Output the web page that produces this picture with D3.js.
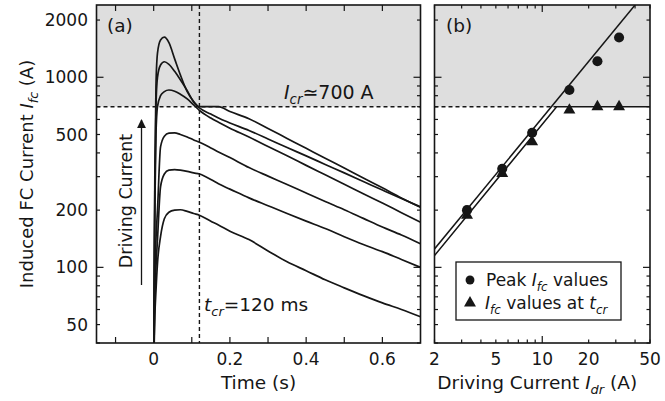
<!DOCTYPE html>
<html>
<head>
<meta charset="utf-8">
<script src="https://cdn.jsdelivr.net/npm/d3@7"></script>
<style>
  body { margin: 0; background: #fff; }
  svg text { font-family: "DejaVu Sans", "Open Sans", sans-serif; fill: #161616; }
</style>
</head>
<body>
<svg id="chart" width="665" height="401"></svg>
<script>
// ---- data ---------------------------------------------------------------
// Time grid (s) shared by the six FC current traces of panel (a)
const times = [0, 0.003, 0.006, 0.01, 0.018, 0.028, 0.04, 0.055, 0.07, 0.088, 0.105, 0.12,
               0.15, 0.17, 0.2, 0.25, 0.3, 0.35, 0.4, 0.45, 0.5, 0.55, 0.6, 0.65, 0.7];
// Induced FC current (A), one trace per driving current
const trace1 = [30, 55, 75, 105, 145, 180, 195, 200, 201, 197, 192, 188,
                175, 167, 155, 140, 122, 107, 96, 86, 78, 71, 65, 60, 55];
const trace2 = [30, 70, 100, 140, 265, 310, 325, 327, 325, 320, 314, 310,
                290, 275, 258, 232, 211, 192, 175, 160, 145, 132, 121, 110, 100];
const trace3 = [30, 90, 140, 200, 430, 490, 508, 510, 500, 485, 468, 455,
                425, 405, 378, 335, 302, 273, 246, 222, 201, 181, 163, 148, 133];
const trace4 = [30, 200, 500, 700, 800, 840, 857, 845, 815, 770, 715, 670,
                610, 580, 540, 485, 432, 386, 344, 307, 274, 244, 218, 194, 173];
const trace5 = [30, 250, 700, 1000, 1160, 1207, 1170, 1075, 970, 850, 740, 690,
                640, 610, 575, 525, 474, 427, 386, 348, 314, 283, 255, 230, 208];
const trace6 = [30, 300, 900, 1340, 1570, 1625, 1520, 1250, 1030, 840, 745, 700,
                700, 700, 660, 605, 538, 477, 423, 375, 333, 295, 262, 232, 207];

// Panel (b): driving current vs peak FC current and FC current at t_cr
const driveCurrents = [3.25, 5.5, 8.6, 15, 22.8, 31.5];
const peakValues    = [200, 330, 511, 857, 1215, 1620];
const crValues      = [188, 312, 457, 672, 700, 700];
// Power-law fits drawn as straight lines in log-log space: [I_dr, I_fc]
const peakFit = [[2, 125], [40, 2400]];
const crFit   = [[2, 115.5], [12.4, 700], [50, 700]];

const criticalCurrent = 700;   // A
const criticalTime = 0.12;     // s

const currentLabels = [50, 100, 200, 500, 1000, 2000];
const timeLabels = [0, 0.2, 0.4, 0.6];
const timeTickValues = [-0.1, 0, 0.1, 0.2, 0.3, 0.4, 0.5, 0.6];
const driveLabels = [2, 5, 10, 20, 50];

// ---- layout --------------------------------------------------------------
const svg = d3.select("#chart");
const plotTop = 5, plotBottom = 343;
const A = { x0: 96.5, x1: 420.5 };
const B = { x0: 434.5, x1: 650 };

const y = d3.scaleLog().domain([40, 2400]).range([plotBottom, plotTop]);
const xa = d3.scaleLinear().domain([-0.15, 0.7]).range([A.x0, A.x1]);
const xb = d3.scaleLog().domain([2, 50]).range([B.x0, B.x1]);

const ink = "#161616";
const shade = "#dedede";

const defs = svg.append("defs");
defs.append("clipPath").attr("id", "clipA").append("rect")
  .attr("x", A.x0).attr("y", plotTop).attr("width", A.x1 - A.x0).attr("height", plotBottom - plotTop);
defs.append("clipPath").attr("id", "clipB").append("rect")
  .attr("x", B.x0).attr("y", plotTop).attr("width", B.x1 - B.x0).attr("height", plotBottom - plotTop);

// Text with italic symbols and subscripts
function rich(sel, parts, size) {
  let shifted = 0;
  parts.forEach(p => {
    const ts = sel.append("tspan").text(p.t);
    if (p.i) ts.attr("font-style", "italic");
    const want = p.sub ? size * 0.28 : 0;
    if (want !== shifted) { ts.attr("dy", want - shifted); shifted = want; }
    ts.attr("font-size", p.sub ? size * 0.7 : size);
  });
  return sel;
}

// ---- shaded region above the critical current ----------------------------
[A, B].forEach(P => {
  svg.append("rect")
    .attr("x", P.x0).attr("y", plotTop)
    .attr("width", P.x1 - P.x0).attr("height", y(criticalCurrent) - plotTop)
    .attr("fill", shade);
});

// ---- panel (a) -----------------------------------------------------------
const gA = svg.append("g").attr("clip-path", "url(#clipA)");
gA.append("line")
  .attr("x1", A.x0).attr("x2", A.x1)
  .attr("y1", y(criticalCurrent)).attr("y2", y(criticalCurrent))
  .attr("stroke", ink).attr("stroke-width", 1.4).attr("stroke-dasharray", "4,3");
gA.append("line")
  .attr("x1", xa(criticalTime)).attr("x2", xa(criticalTime))
  .attr("y1", plotTop).attr("y2", plotBottom)
  .attr("stroke", ink).attr("stroke-width", 1.4).attr("stroke-dasharray", "4,3");

const traceLine = d3.line()
  .x((d, i) => xa(times[i]))
  .y(d => y(d))
  .curve(d3.curveMonotoneX);

[trace1, trace2, trace3, trace4, trace5, trace6].forEach(tr => {
  gA.append("path").attr("d", traceLine(tr))
    .attr("fill", "none").attr("stroke", ink).attr("stroke-width", 1.7)
    .attr("stroke-linejoin", "round");
});

// ---- panel (b) -----------------------------------------------------------
const gB = svg.append("g").attr("clip-path", "url(#clipB)");
gB.append("line")
  .attr("x1", B.x0).attr("x2", xb(crFit[1][0]))
  .attr("y1", y(criticalCurrent)).attr("y2", y(criticalCurrent))
  .attr("stroke", ink).attr("stroke-width", 1.4).attr("stroke-dasharray", "4,3");

const fitLine = d3.line().x(d => xb(d[0])).y(d => y(d[1]));
[peakFit, crFit].forEach(f => {
  gB.append("path").attr("d", fitLine(f))
    .attr("fill", "none").attr("stroke", ink).attr("stroke-width", 1.5);
});

const circleSym = d3.symbol(d3.symbolCircle, 80);
const triSym = d3.symbol(d3.symbolTriangle, 62);
driveCurrents.forEach((c, i) => {
  gB.append("path").attr("d", triSym())
    .attr("transform", `translate(${xb(c)},${y(crValues[i])})`).attr("fill", ink);
  gB.append("path").attr("d", circleSym())
    .attr("transform", `translate(${xb(c)},${y(peakValues[i])})`).attr("fill", ink);
});

// legend
const lg = svg.append("g");
lg.append("rect").attr("x", 456).attr("y", 262).attr("width", 165).attr("height", 58)
  .attr("fill", "#fff").attr("stroke", ink).attr("stroke-width", 1.3);
lg.append("path").attr("d", d3.symbol(d3.symbolCircle, 62)())
  .attr("transform", "translate(470,280)").attr("fill", ink);
lg.append("path").attr("d", d3.symbol(d3.symbolTriangle, 62)())
  .attr("transform", "translate(470,303)").attr("fill", ink);
rich(lg.append("text").attr("x", 486).attr("y", 286), [
  { t: "Peak " }, { t: "I", i: true }, { t: "fc", i: true, sub: true }, { t: " values" }
], 17);
rich(lg.append("text").attr("x", 485).attr("y", 309), [
  { t: "I", i: true }, { t: "fc", i: true, sub: true }, { t: " values at " },
  { t: "t", i: true }, { t: "cr", i: true, sub: true }
], 17);

// ---- frames and ticks ----------------------------------------------------
const yTickVals = y.ticks();
function yTicks(P) {
  yTickVals.forEach(v => {
    const major = Math.abs(Math.log10(v) - Math.round(Math.log10(v))) < 1e-9;
    const len = major ? 7 : 3.5;
    [[P.x0, 1], [P.x1, -1]].forEach(([x, s]) => {
      svg.append("line").attr("x1", x).attr("x2", x + s * len)
        .attr("y1", y(v)).attr("y2", y(v))
        .attr("stroke", ink).attr("stroke-width", 1.2);
    });
  });
}
yTicks(A); yTicks(B);

timeTickValues.forEach(t => {
  [[plotBottom, -1], [plotTop, 1]].forEach(([yy, s]) => {
    svg.append("line").attr("x1", xa(t)).attr("x2", xa(t))
      .attr("y1", yy).attr("y2", yy + s * 6)
      .attr("stroke", ink).attr("stroke-width", 1.2);
  });
});

xb.ticks().forEach(v => {
  const major = Math.abs(Math.log10(v) - Math.round(Math.log10(v))) < 1e-9;
  const len = major ? 7 : 3.5;
  [[plotBottom, -1], [plotTop, 1]].forEach(([yy, s]) => {
    svg.append("line").attr("x1", xb(v)).attr("x2", xb(v))
      .attr("y1", yy).attr("y2", yy + s * len)
      .attr("stroke", ink).attr("stroke-width", 1.2);
  });
});

[A, B].forEach(P => {
  svg.append("rect").attr("x", P.x0).attr("y", plotTop)
    .attr("width", P.x1 - P.x0).attr("height", plotBottom - plotTop)
    .attr("fill", "none").attr("stroke", ink).attr("stroke-width", 1.6);
});

// ---- tick labels ---------------------------------------------------------
currentLabels.forEach(v => {
  svg.append("text").attr("x", 88).attr("y", y(v)).attr("dy", "0.36em")
    .attr("text-anchor", "end").attr("font-size", 17).text(v);
});
timeLabels.forEach(t => {
  svg.append("text").attr("x", xa(t)).attr("y", 365)
    .attr("text-anchor", "middle").attr("font-size", 17).text(t === 0 ? "0" : t.toFixed(1));
});
driveLabels.forEach(v => {
  svg.append("text").attr("x", xb(v)).attr("y", 365)
    .attr("text-anchor", "middle").attr("font-size", 17).text(v);
});

// ---- axis titles and annotations -----------------------------------------
svg.append("text").attr("x", (A.x0 + A.x1) / 2).attr("y", 389)
  .attr("text-anchor", "middle").attr("font-size", 18.5).text("Time (s)");
rich(svg.append("text").attr("x", (B.x0 + B.x1) / 2 - 5).attr("y", 389)
  .attr("text-anchor", "middle"), [
  { t: "Driving Current " }, { t: "I", i: true }, { t: "dr", i: true, sub: true }, { t: " (A)" }
], 18.5);
rich(svg.append("text").attr("transform", `translate(33,${(plotTop + plotBottom) / 2}) rotate(-90)`)
  .attr("text-anchor", "middle"), [
  { t: "Induced FC Current " }, { t: "I", i: true }, { t: "fc", i: true, sub: true }, { t: " (A)" }
], 18);

svg.append("text").attr("x", 107).attr("y", 32).attr("font-size", 18.5).text("(a)");
svg.append("text").attr("x", 446).attr("y", 32).attr("font-size", 18.5).text("(b)");

rich(svg.append("text").attr("x", 284).attr("y", 99), [
  { t: "I", i: true }, { t: "cr", i: true, sub: true }, { t: "\u2243700 A" }
], 19);
rich(svg.append("text").attr("x", 204).attr("y", 311), [
  { t: "t", i: true }, { t: "cr", i: true, sub: true }, { t: "=120 ms" }
], 18.5);

// driving-current arrow
svg.append("defs").append("marker").attr("id", "arrowHead")
  .attr("viewBox", "0 0 10 10").attr("refX", 9).attr("refY", 5)
  .attr("markerWidth", 9).attr("markerHeight", 9).attr("markerUnits", "userSpaceOnUse")
  .attr("orient", "auto")
  .append("path").attr("d", "M0,0 L10,5 L0,10 Z").attr("fill", ink);
svg.append("line").attr("x1", 141.5).attr("x2", 141.5).attr("y1", 285).attr("y2", 120)
  .attr("stroke", ink).attr("stroke-width", 1.3).attr("marker-end", "url(#arrowHead)");
svg.append("text").attr("transform", "translate(132,201) rotate(-90)")
  .attr("text-anchor", "middle").attr("font-size", 17.5).text("Driving Current");
</script>
</body>
</html>
